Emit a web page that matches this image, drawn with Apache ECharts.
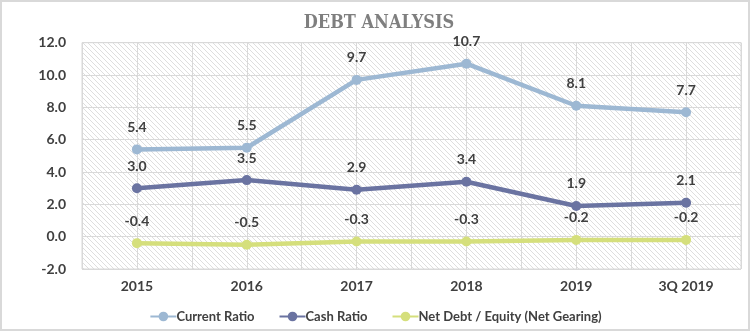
<!DOCTYPE html>
<html><head><meta charset="utf-8">
<script src="https://cdn.jsdelivr.net/npm/echarts@6/dist/echarts.min.js"></script>
<style>html,body{margin:0;padding:0;background:#fff}#c{width:751px;height:334px}</style>
</head><body><div id="c"></div>
<script>
const categories = ['2015','2016','2017','2018','2019','3Q 2019'];
const currentRatio = [5.4, 5.5, 9.7, 10.7, 8.1, 7.7];
const cashRatio = [3.0, 3.5, 2.9, 3.4, 1.9, 2.1];
const netGearing = [-0.4, -0.5, -0.3, -0.3, -0.2, -0.2];
const seriesNames = ['Current Ratio','Cash Ratio','Net Debt / Equity (Net Gearing)'];
const halfCats = ['a','b','c','d','e','f','g','h','i','j','k','l'];

const pc = document.createElement('canvas');
pc.width = 5; pc.height = 5;
const pctx = pc.getContext('2d');
pctx.fillStyle = '#fff'; pctx.fillRect(0,0,5,5);
pctx.fillStyle = '#dedede';
for (let i=0;i<5;i++) pctx.fillRect(i,i,1,1);

const font = 'Lato, "Open Sans", sans-serif';
const labelStyle = {show:true, position:'top', distance:10, fontFamily:font, fontWeight:'bold', fontSize:14, color:'#404040', formatter: p => p.value.toFixed(1)};
const colors = ['#9db8d3','#6a73a1','#d5df7c'];

function mk(name, data, color){
  return {name, type:'line', data, xAxisIndex:0, yAxisIndex:0, symbol:'circle', symbolSize:10,
    lineStyle:{width:4.5, color}, itemStyle:{color}, label:labelStyle, z:5};
}

const chart = echarts.init(document.getElementById('c'));
chart.setOption({
  animation:false,
  backgroundColor:'#fff',
  title:{text:'DEBT ANALYSIS', left:374, textAlign:'center', top:9,
    textStyle:{fontFamily:'"DejaVu Serif Condensed","DejaVu Serif",serif', fontWeight:'bold', fontSize:18, color:'#7f7f7f'}},
  legend:{top:305, left:'center', itemWidth:26, itemHeight:12, itemGap:24,
    textStyle:{fontFamily:font, fontWeight:'bold', fontSize:13, color:'#404040', padding:[0,0,0,-5]},
    data:seriesNames},
  grid:{left:82, right:10, top:42.7, bottom:65, show:true, backgroundColor:{image:pc, repeat:'repeat'}, borderColor:'#d9d9d9', borderWidth:1},
  xAxis:[
    {type:'category', data:categories, boundaryGap:true, axisLine:{show:false}, axisTick:{show:false},
     axisLabel:{margin:10, fontFamily:font, fontWeight:'bold', fontSize:14, color:'#404040'}, splitLine:{show:false}},
    {type:'category', data:halfCats, boundaryGap:true, position:'bottom', axisLine:{show:false}, axisTick:{show:false},
     axisLabel:{show:false}, splitLine:{show:true, lineStyle:{color:'#d9d9d9', width:1}}}
  ],
  yAxis:{type:'value', min:-2, max:12, interval:2, axisLine:{show:false}, axisTick:{show:false},
    axisLabel:{margin:16, fontFamily:font, fontWeight:'bold', fontSize:14, color:'#404040', formatter:v=>v.toFixed(1)},
    splitLine:{lineStyle:{color:'#d9d9d9', width:1}}},
  graphic:[{type:'rect', shape:{x:1, y:1, width:748, height:329}, style:{fill:null, stroke:'#d9d9d9', lineWidth:2}, silent:true, z:100}],
  series:[mk(seriesNames[0], currentRatio, colors[0]), mk(seriesNames[1], cashRatio, colors[1]), mk(seriesNames[2], netGearing, colors[2])]
});
</script></body></html>
